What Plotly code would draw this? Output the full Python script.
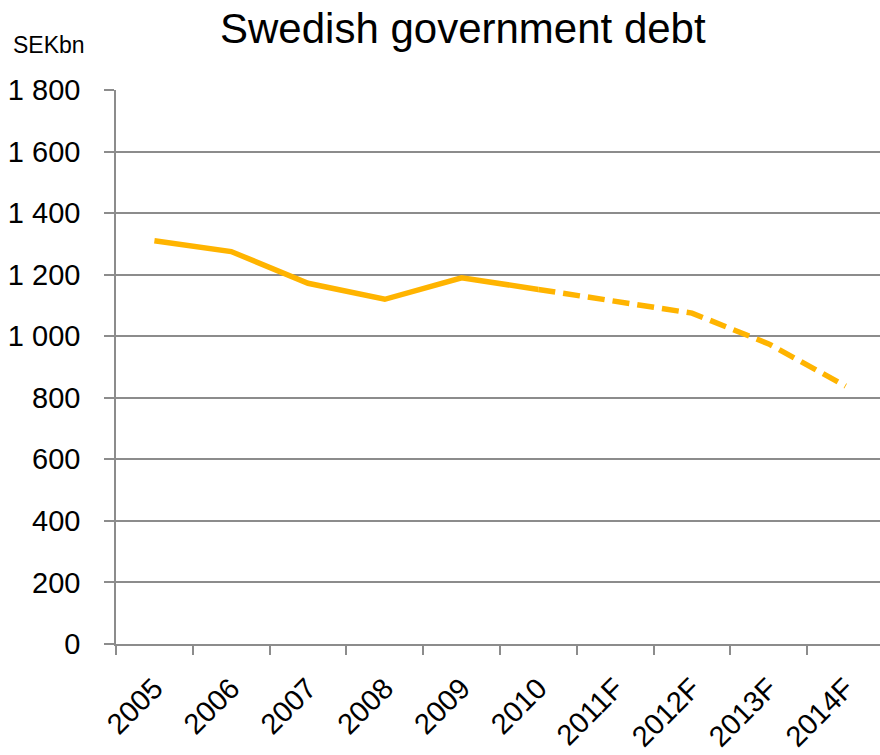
import plotly.graph_objects as go

categories = ["2005", "2006", "2007", "2008", "2009", "2010", "2011F", "2012F", "2013F", "2014F"]
debt = [1310, 1275, 1172, 1120, 1190, 1152, 1115, 1075, 975, 838]
n_actual = 6  # 2005-2010 are outcomes, rest forecasts
y_ticks = [0, 200, 400, 600, 800, 1000, 1200, 1400, 1600, 1800]
y_tick_labels = ["0", "200", "400", "600", "800", "1 000", "1 200", "1 400", "1 600", "1 800"]

line_color = "#FFB400"
grid_color = "#8C8C8C"
font_family = "Liberation Sans, Arial, sans-serif"

fig = go.Figure()
fig.add_trace(go.Scatter(
    x=categories[:n_actual], y=debt[:n_actual], mode="lines",
    line=dict(color=line_color, width=5.5), hoverinfo="x+y", showlegend=False))
fig.add_trace(go.Scatter(
    x=categories[n_actual - 1:], y=debt[n_actual - 1:], mode="lines",
    line=dict(color=line_color, width=5.5, dash="17px,8px"), hoverinfo="x+y", showlegend=False))

fig.update_layout(
    width=880, height=755,
    margin=dict(l=116, r=0, t=90, b=111),
    paper_bgcolor="white", plot_bgcolor="white",
    font=dict(family=font_family, color="black", size=29),
    annotations=[
        dict(text="Swedish government debt", xref="paper", yref="paper",
             x=(463 - 116) / 764, y=1, yshift=62, showarrow=False,
             font=dict(size=42, color="black"), xanchor="center", yanchor="middle"),
        dict(text="SEKbn", xref="paper", yref="paper",
             x=-0.088, y=1, yshift=45, showarrow=False,
             font=dict(size=23, color="black"), xanchor="center", yanchor="middle"),
    ],
)
fig.update_xaxes(
    type="category", categoryorder="array", categoryarray=categories,
    range=[-0.5, -0.5 + 764 / 76.8],
    tickson="boundaries", ticks="outside", ticklen=9, tickcolor=grid_color, tickwidth=1.5,
    showline=True, linecolor=grid_color, linewidth=1.5,
    showgrid=False, tickangle=-45, tickfont=dict(size=29),
    ticklabelstandoff=14,
)
fig.update_yaxes(
    range=[0, 1800], tickvals=y_ticks, ticktext=y_tick_labels,
    ticks="outside", ticklen=10, tickcolor=grid_color, tickwidth=1.5,
    showline=True, linecolor=grid_color, linewidth=1.5,
    showgrid=True, gridcolor=grid_color, gridwidth=1.5, zeroline=False,
    ticklabelstandoff=18, tickfont=dict(size=29),
)

fig.write_html("out.html")
